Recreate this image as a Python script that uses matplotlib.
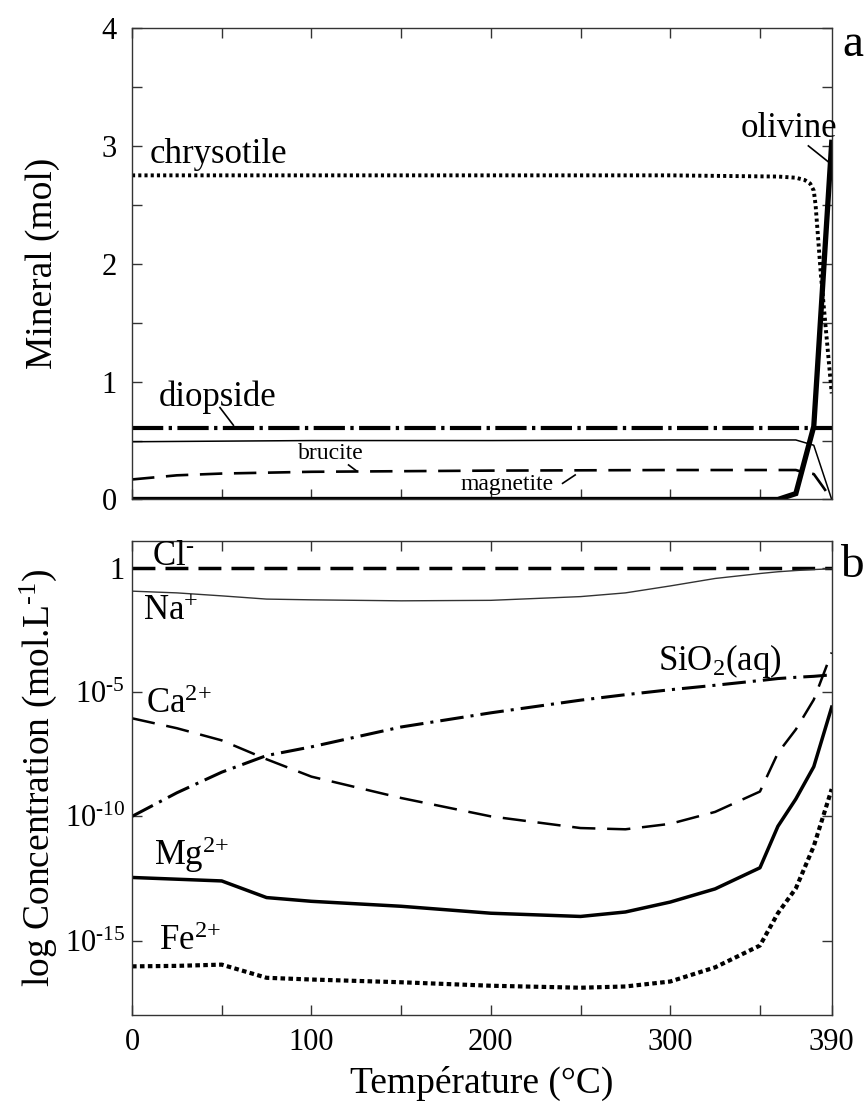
import numpy as np
import matplotlib
matplotlib.use('Agg')
import matplotlib.pyplot as plt
from matplotlib.ticker import FixedLocator, NullLocator, MultipleLocator

plt.rcParams['font.family'] = ['Liberation Serif', 'DejaVu Serif']
plt.rcParams['mathtext.fontset'] = 'custom'
plt.rcParams['mathtext.rm'] = 'Liberation Serif'
plt.rcParams['mathtext.it'] = 'Liberation Serif'
plt.rcParams['mathtext.default'] = 'regular'

# ---- (a) minerals, mol ----
T_chry = [0, 100, 200, 300, 360, 370, 375, 378, 380, 381, 384, 387, 390]
chrysotile = [2.75, 2.75, 2.75, 2.75, 2.74, 2.73, 2.71, 2.68, 2.62, 2.5, 1.9, 1.4, 0.9]

T_oliv = [0, 100, 200, 300, 360, 370, 380, 390]
olivine = [0.0, 0.0, 0.0, 0.0, 0.0, 0.05, 0.62, 3.03]

T_diop = [0, 390]
diopside = [0.61, 0.61]

T_bruc = [0, 100, 200, 300, 370, 380, 390]
brucite = [0.49, 0.5, 0.5, 0.505, 0.505, 0.46, 0.0]

T_magn = [0, 25, 50, 100, 200, 300, 370, 375, 380, 385, 390]
magnetite = [0.17, 0.205, 0.22, 0.235, 0.245, 0.25, 0.25, 0.227, 0.216, 0.11, 0.0]

# ---- (b) aqueous species, log10 mol/L ----
T_aq = [0, 25, 50, 75, 100, 150, 200, 250, 275, 300, 325, 350, 360, 370, 380, 390]
log_cl = [0.0] * 16
log_na = [-0.93, -1.0, -1.12, -1.25, -1.28, -1.32, -1.3, -1.15, -1.0, -0.72,
          -0.42, -0.22, -0.15, -0.1, -0.06, -0.03]
log_ca = [-6.05, -6.45, -6.94, -7.7, -8.4, -9.26, -10.0, -10.47, -10.52, -10.3,
          -9.82, -9.0, -7.45, -6.5, -5.3, -3.4]
log_sio2 = [-10.0, -9.05, -8.22, -7.55, -7.2, -6.4, -5.83, -5.32, -5.1, -4.9,
            -4.72, -4.53, -4.45, -4.4, -4.36, -4.3]
log_mg = [-12.46, -12.53, -12.6, -13.27, -13.42, -13.62, -13.9, -14.03, -13.85, -13.45,
          -12.92, -12.07, -10.4, -9.3, -8.0, -5.6]
log_fe = [-16.04, -16.02, -15.97, -16.5, -16.57, -16.68, -16.82, -16.9, -16.85, -16.65,
          -16.08, -15.2, -13.9, -12.9, -11.2, -8.9]

xtick_pos = [0, 50, 100, 150, 200, 250, 300, 350, 390]
xtick_lab = ['0', '', '100', '', '200', '', '300', '', '390']

fig = plt.figure(figsize=(8.68, 11.08), dpi=100)
ax1 = fig.add_axes([0.1521, 0.5492, 0.8061, 0.4255])
ax2 = fig.add_axes([0.1521, 0.0839, 0.8061, 0.4274])

for ax in (ax1, ax2):
    for s in ax.spines.values():
        s.set_linewidth(1.0)
        s.set_color('#333333')
    ax.tick_params(direction='in', length=7, width=1.0, color='#333333',
                   top=True, right=True, labelsize=22)
    ax.set_xlim(0, 390)

# top panel
ax1.plot(T_chry, chrysotile, color='black', lw=2.8, dashes=(0.8, 0.8))
ax1.plot(T_diop, diopside, color='black', lw=3.0, dashes=(7.5, 1.3, 0.8, 1.3))
ax1.plot(T_bruc, brucite, color='black', lw=1.1)
ax1.plot(T_magn, magnetite, color='black', lw=1.9, dashes=(8.5, 4.4))
ax1.plot(T_oliv, olivine, color='black', lw=3.8, solid_joinstyle='miter')
ax1.set_ylim(0, 4)
ax1.xaxis.set_major_locator(MultipleLocator(50))
ax1.set_xticklabels([])
ax1.set_yticks([0, 0.5, 1, 1.5, 2, 2.5, 3, 3.5, 4])
ax1.set_yticklabels(['0', '', '1', '', '2', '', '3', '', '4'])
ax1.tick_params(axis='y', pad=11)
ax1.set_ylabel('Mineral (mol)', fontsize=27, labelpad=30)

ax1.text(10, 2.93, 'chrysotile', fontsize=25, va='center')
ax1.text(15, 0.87, 'diopside', fontsize=25, va='center')
ax1.plot([49, 56.5], [0.78, 0.63], color='black', lw=1.2)
ax1.text(92.5, 0.386, 'brucite', fontsize=17, va='center')
ax1.plot([120.7, 125], [0.293, 0.244], color='black', lw=1.2)
ax1.text(183, 0.123, 'magnetite', fontsize=17, va='center')
ax1.plot([240, 247], [0.137, 0.208], color='black', lw=1.2)
ax1.text(393, 3.15, 'olivine', fontsize=25, va='center', ha='right', clip_on=False)
ax1.plot([377, 388.5], [3.0, 2.86], color='black', lw=1.2)

# bottom panel
ax2.set_yscale('log')
ax2.plot(T_aq, 10.0 ** np.array(log_cl), color='black', lw=2.5, dashes=(6.6, 2.9))
ax2.plot(T_aq, 10.0 ** np.array(log_na), color='#333333', lw=1.0)
ax2.plot(T_aq, 10.0 ** np.array(log_ca), color='black', lw=1.8, dashes=(9.3, 4.7))
ax2.plot(T_aq, 10.0 ** np.array(log_sio2), color='black', lw=2.2, dashes=(7.7, 2.3, 1.0, 2.3))
ax2.plot(T_aq, 10.0 ** np.array(log_mg), color='black', lw=2.5)
ax2.plot(T_aq, 10.0 ** np.array(log_fe), color='black', lw=3.0, dashes=(1.1, 0.8))
ax2.set_ylim(1e-18, 10 ** 1.07)
ax2.yaxis.set_major_locator(FixedLocator([1e-15, 1e-10, 1e-5, 1.0]))
ax2.yaxis.set_minor_locator(NullLocator())
ax2.set_yticklabels([r'10$^{\text{-15}}$', r'10$^{\text{-10}}$', r'10$^{\text{-5}}$', '1'])
ax2.tick_params(axis='y', pad=5)
ax2.tick_params(axis='x', pad=9)
ax2.xaxis.set_major_locator(FixedLocator(xtick_pos))
ax2.set_xticklabels(xtick_lab)
ax2.set_ylabel('log Concentration (mol.L$^{\\text{-1}}$)', fontsize=27, labelpad=4)
ax2.set_xlabel('Température (°C)', fontsize=27, labelpad=7)

ax2.text(11, 10 ** 0.48, r'Cl$^{\text{-}}$', fontsize=25, va='center')
ax2.text(6, 10 ** -1.73, r'Na$^{\text{+}}$', fontsize=25, va='center')
ax2.text(8, 10 ** -5.48, r'Ca$^{\text{2+}}$', fontsize=25, va='center')
ax2.text(293, 10 ** -3.75, r'SiO$_{2}$(aq)', fontsize=25, va='center')
ax2.text(12, 10 ** -11.55, r'Mg$^{\text{2+}}$', fontsize=25, va='center')
ax2.text(15, 10 ** -15.04, r'Fe$^{\text{2+}}$', fontsize=25, va='center')

fig.text(853 / 868, 1 - 45 / 1108, 'a', fontsize=34, ha='center', va='center')
fig.text(852 / 868, 1 - 566 / 1108, 'b', fontsize=34, ha='center', va='center')

fig.savefig('out.png', dpi=100)
